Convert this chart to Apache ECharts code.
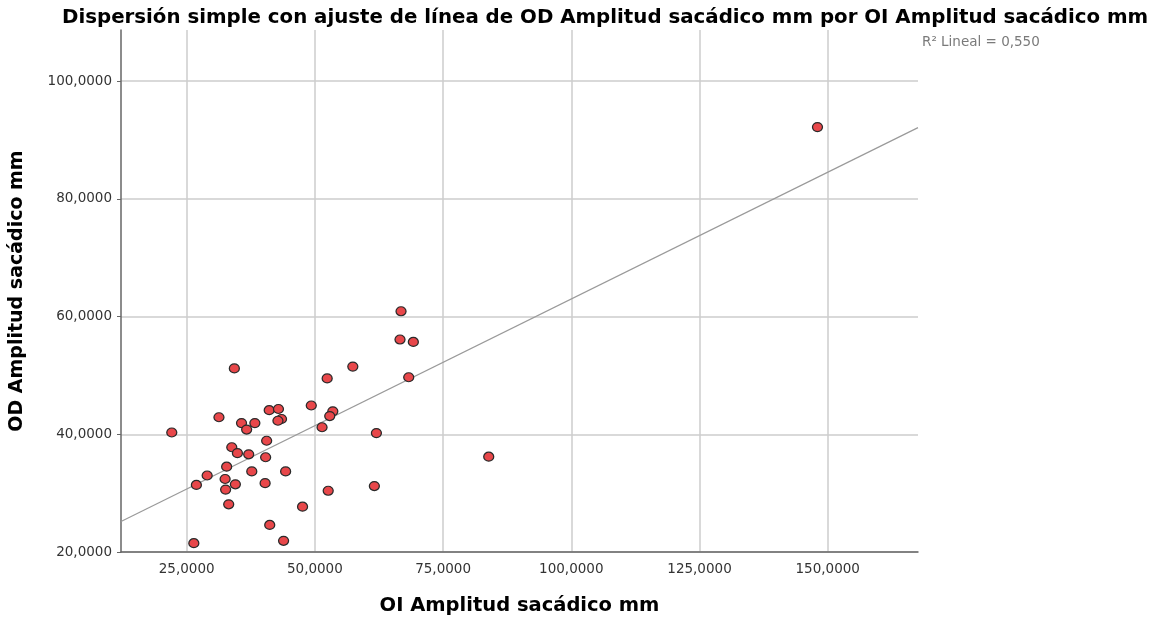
<!DOCTYPE html>
<html>
<head>
<meta charset="utf-8">
<script src="https://cdn.jsdelivr.net/npm/echarts@6/dist/echarts.min.js"></script>
<style>
  html, body { margin: 0; padding: 0; background: #fff; }
  #chart { width: 1150px; height: 621px; }
</style>
</head>
<body>
<div id="chart"></div>
<script>
// OI (x) and OD (y) saccadic amplitude, one pair per subject
const oiAmplitud = [
  66.8, 66.6, 69.2, 34.3, 57.4, 52.4, 68.3, 49.3, 41.1, 42.9, 53.5,
  52.9, 31.3, 43.5, 42.8, 35.7, 38.3, 36.7, 22.1, 51.4, 62.0, 40.6,
  33.8, 34.9, 37.1, 40.4, 32.8, 29.0, 37.7, 44.3, 26.9, 32.5, 34.5,
  40.3, 32.6, 52.6, 61.6, 33.2, 47.6, 41.2, 26.4, 43.9, 83.9, 148.0
];
const odAmplitud = [
  60.9, 56.1, 55.7, 51.2, 51.5, 49.5, 49.7, 44.9, 44.1, 44.3, 43.9,
  43.1, 42.9, 42.6, 42.3, 41.9, 41.9, 40.8, 40.3, 41.2, 40.2, 38.9,
  37.8, 36.8, 36.6, 36.1, 34.5, 33.0, 33.7, 33.7, 31.4, 32.4, 31.5,
  31.7, 30.6, 30.4, 31.2, 28.1, 27.7, 24.6, 21.5, 21.9, 36.2, 92.2
];
const xTicks = [25, 50, 75, 100, 125, 150];
const yTicks = [20, 40, 60, 80, 100];
const xRange = [12.2, 167.6];
const yRange = [20, 108.7];
const r2Text = 'R\u00b2 Lineal = 0,550';

// least-squares fit of OD on OI
function linearFit(xs, ys) {
  const n = xs.length;
  const mx = xs.reduce((a, b) => a + b, 0) / n;
  const my = ys.reduce((a, b) => a + b, 0) / n;
  let sxy = 0, sxx = 0;
  for (let i = 0; i < n; i++) {
    sxy += (xs[i] - mx) * (ys[i] - my);
    sxx += (xs[i] - mx) * (xs[i] - mx);
  }
  const slope = sxy / sxx;
  return { slope, intercept: my - slope * mx };
}
const fit = linearFit(oiAmplitud, odAmplitud);
const fitLine = xRange.map(x => [x, fit.intercept + fit.slope * x]);
const points = oiAmplitud.map((x, i) => [x, odAmplitud[i]]);

const fmt = v => v.toFixed(4).replace('.', ',');
const FONT = '"DejaVu Sans", Verdana, sans-serif';

const chart = echarts.init(document.getElementById('chart'));
chart.setOption({
  animation: false,
  backgroundColor: '#ffffff',
  title: {
    text: 'Dispersión simple con ajuste de línea de OD Amplitud sacádico mm por OI Amplitud sacádico mm',
    left: 57,
    top: 3,
    textStyle: { fontFamily: FONT, fontSize: 19.8, fontWeight: 'bold', color: '#000' }
  },
  grid: { left: 119, right: 232, top: 30, bottom: 64, containLabel: false },
  xAxis: {
    type: 'value',
    min: xRange[0],
    max: xRange[1],
    name: 'OI Amplitud sacádico mm',
    nameLocation: 'middle',
    nameGap: 44,
    nameTextStyle: { fontFamily: FONT, fontSize: 19.5, fontWeight: 'bold', color: '#000' },
    axisLine: { show: true, lineStyle: { color: '#666666', width: 1.5 } },
    axisTick: { show: false, customValues: xTicks },
    axisLabel: {
      customValues: xTicks,
      formatter: fmt,
      margin: 10,
      fontFamily: FONT, fontSize: 13.5, color: '#333'
    },
    splitLine: { show: true, lineStyle: { color: '#cccccc', width: 1.5 } }
  },
  yAxis: {
    type: 'value',
    min: yRange[0],
    max: yRange[1],
    name: 'OD Amplitud sacádico mm',
    nameLocation: 'middle',
    nameRotate: 90,
    nameGap: 94,
    nameTextStyle: { fontFamily: FONT, fontSize: 19, fontWeight: 'bold', color: '#000' },
    axisLine: { show: true, lineStyle: { color: '#666666', width: 1.5 } },
    axisTick: { show: true, length: 4, customValues: yTicks, lineStyle: { color: '#666666' } },
    axisLabel: {
      customValues: yTicks,
      formatter: fmt,
      margin: 9,
      fontFamily: FONT, fontSize: 13.5, color: '#333'
    },
    splitLine: { show: true, lineStyle: { color: '#cccccc', width: 1.5 } }
  },
  graphic: [{
    type: 'text',
    left: 922,
    top: 35,
    style: { text: r2Text, fontFamily: FONT, fontSize: 13.5, fill: '#7a7a7a' }
  }],
  series: [
    {
      type: 'line',
      data: fitLine,
      showSymbol: false,
      clip: true,
      lineStyle: { color: '#9a9a9a', width: 1.2 },
      z: 2
    },
    {
      type: 'scatter',
      data: points,
      symbol: 'circle',
      symbolSize: [10, 9],
      itemStyle: { color: '#e8474a', borderColor: '#2a2a2a', borderWidth: 1.2, opacity: 1 },
      z: 3
    }
  ]
});
</script>
</body>
</html>
